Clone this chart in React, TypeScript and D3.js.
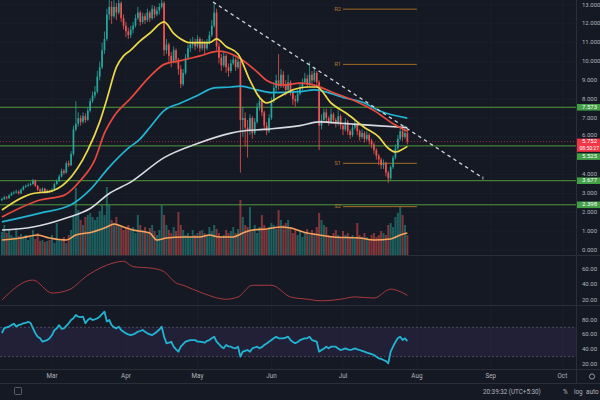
import React, { useEffect } from 'react';
import * as d3 from 'd3';

// ---------- DATA ----------
const firstOpen = 2.65;
// daily closes from 2021-02-08 to 2021-07-28
const closes = [
  2.70, 2.80, 2.75, 2.90, 3.00, 3.05, 3.10, 3.00, 3.20, 3.35,
  3.40, 3.45, 3.50, 3.70, 3.40, 3.20, 3.10, 3.25, 3.05, 3.15,
  3.10, 3.20, 3.50, 3.65, 3.90, 4.20, 4.10, 4.60, 4.50, 5.10,
  6.40, 6.70, 7.00, 6.80, 7.10, 6.90, 7.40, 7.90, 8.20, 8.40,
  9.20, 9.70, 10.60, 11.20, 12.50, 12.90, 12.40, 12.90, 12.60, 13.10,
  12.30, 11.90, 11.60, 11.40, 11.70, 11.90, 12.30, 12.60, 12.10, 12.40,
  12.20, 12.60, 12.30, 12.80, 12.50, 12.70, 12.90, 13.10, 10.60, 10.90,
  10.30, 10.00, 10.60, 10.10, 9.60, 8.80, 9.40, 10.20, 10.70, 10.90,
  11.00, 10.80, 11.20, 10.70, 11.00, 10.70, 11.00, 11.40, 11.90, 12.60,
  10.80, 10.20, 9.80, 10.30, 9.70, 9.50, 9.90, 10.10, 9.70, 10.00,
  6.90, 7.00, 6.50, 6.30, 7.00, 6.20, 6.80, 7.60, 7.90, 7.30,
  6.60, 6.30, 7.00, 7.90, 8.60, 9.00, 8.70, 9.30, 8.80, 8.50,
  8.90, 8.40, 8.00, 7.90, 8.30, 8.60, 8.90, 9.10, 8.80, 9.30,
  9.00, 9.40, 8.90, 6.60, 6.90, 7.30, 7.00, 6.80, 7.20, 6.90,
  6.70, 7.10, 6.60, 6.40, 6.80, 6.30, 6.10, 6.50, 6.70, 6.30,
  6.00, 6.20, 5.90, 6.10, 5.80, 5.60, 5.30, 5.00, 4.80, 4.50,
  4.60, 4.10, 3.80, 4.40, 4.90, 5.40, 5.90, 6.30, 6.00, 6.20, 5.752,
];
const highs = [
  2.78, 2.88, 2.86, 2.96, 3.08, 3.14, 3.20, 3.16, 3.26, 3.42,
  3.48, 3.55, 3.58, 3.78, 3.74, 3.45, 3.28, 3.32, 3.30, 3.22,
  3.20, 3.28, 3.58, 3.75, 4.00, 4.32, 4.30, 4.70, 4.75, 5.25,
  6.60, 7.90, 7.30, 7.15, 7.30, 7.25, 7.55, 8.05, 8.40, 8.70,
  9.50, 10.00, 11.00, 11.60, 12.80, 13.30, 13.20, 13.25, 13.10, 13.35,
  13.20, 12.50, 12.10, 11.80, 11.90, 12.10, 12.50, 12.90, 12.70, 12.60,
  12.55, 12.80, 12.70, 13.00, 12.95, 12.90, 13.10, 13.40, 13.20, 11.20,
  11.00, 10.50, 10.80, 10.70, 10.20, 9.80, 9.60, 10.40, 10.90, 11.20,
  11.30, 11.20, 11.40, 11.30, 11.20, 11.10, 11.20, 11.60, 12.20, 13.10,
  12.80, 11.00, 10.40, 10.50, 10.40, 9.90, 10.10, 10.30, 10.20, 10.20,
  10.10, 7.60, 7.30, 6.90, 7.20, 7.10, 7.00, 7.80, 8.20, 8.00,
  7.40, 6.80, 7.20, 8.10, 8.90, 9.30, 10.40, 9.60, 9.50, 9.00,
  9.30, 9.00, 8.50, 8.20, 8.50, 8.80, 9.10, 9.40, 9.30, 10.00,
  9.50, 9.70, 9.50, 9.00, 7.20, 7.50, 7.50, 7.10, 7.50, 7.30,
  7.00, 7.40, 7.20, 6.70, 7.00, 6.90, 6.40, 6.70, 6.90, 6.80,
  6.40, 6.40, 6.30, 6.30, 6.20, 5.90, 5.70, 5.40, 5.10, 4.90,
  4.80, 4.70, 4.20, 4.50, 5.00, 5.60, 6.10, 6.50, 6.50, 6.60, 6.40,
];
const lows = [
  2.58, 2.66, 2.68, 2.72, 2.86, 2.95, 3.00, 2.94, 2.97, 3.15,
  3.30, 3.36, 3.40, 3.46, 3.35, 3.12, 3.02, 3.06, 2.98, 3.00,
  3.02, 3.05, 3.16, 3.44, 3.60, 3.85, 4.00, 4.05, 4.40, 4.45,
  5.00, 6.30, 6.55, 6.60, 6.70, 6.75, 6.85, 7.30, 7.80, 8.05,
  8.30, 9.00, 9.60, 10.40, 11.10, 12.20, 12.00, 12.30, 12.20, 12.50,
  12.10, 11.70, 11.30, 11.20, 11.25, 11.50, 11.80, 12.20, 11.90, 12.00,
  12.00, 12.10, 12.10, 12.20, 12.30, 12.40, 12.50, 12.80, 10.30, 10.40,
  10.00, 9.70, 9.90, 9.90, 9.30, 8.60, 8.70, 9.30, 10.10, 10.50,
  10.70, 10.60, 10.70, 10.50, 10.60, 10.40, 10.60, 10.90, 11.30, 11.80,
  10.60, 9.90, 9.50, 9.70, 9.40, 9.20, 9.40, 9.80, 9.50, 9.60,
  4.10, 6.00, 5.50, 4.90, 6.10, 5.90, 6.10, 6.70, 7.40, 7.10,
  6.40, 6.10, 6.20, 6.90, 7.80, 8.40, 8.50, 8.60, 8.60, 8.20,
  8.40, 8.20, 7.70, 7.60, 7.80, 8.20, 8.50, 8.80, 8.60, 8.70,
  8.80, 8.90, 8.70, 5.30, 6.40, 6.80, 6.80, 6.60, 6.70, 6.70,
  6.50, 6.60, 6.40, 6.10, 6.30, 6.10, 5.90, 6.00, 6.40, 6.10,
  5.80, 5.90, 5.70, 5.80, 5.60, 5.40, 5.10, 4.80, 4.50, 4.30,
  4.30, 3.90, 3.55, 3.70, 4.30, 4.80, 5.30, 5.80, 5.80, 5.90, 5.60,
];
const volumes = [
  23, 30, 22, 25, 20, 18, 27, 19, 21, 17,
  20, 15, 18, 25, 16, 22, 14, 15, 13, 14,
  15, 20, 12, 32, 16, 14, 18, 12, 20, 25,
  40, 67, 45, 35, 30, 38, 40, 42, 38, 35,
  38, 44, 50, 40, 68, 50, 35, 32, 38, 30,
  28, 25, 27, 30, 25, 28, 22, 40, 30, 25,
  28, 22, 27, 30, 24, 20, 25, 50, 40, 30,
  25, 22, 28, 24, 43, 30, 25, 20, 22, 18,
  25, 20, 22, 24, 25, 22, 20, 28, 24, 30,
  26, 22, 18, 20, 25, 22, 24, 28, 22, 26,
  55, 38, 30, 28, 48, 25, 30, 22, 28, 40,
  30, 25, 28, 32, 30, 26, 45, 35, 30, 32,
  35, 28, 22, 25, 20, 24, 18, 22, 26, 20,
  25, 22, 28, 42, 35, 30, 28, 20, 18, 22,
  25, 20, 18, 24, 20, 22, 18, 20, 16, 32,
  20, 18, 22, 18, 16, 20, 22, 18, 20, 24,
  22, 20, 30, 32, 28, 38, 42, 48, 40, 30, 20,
];
const rsi = [
  62, 69, 70, 71, 73, 75, 71, 73, 74, 75.5,
  76, 77.7, 76, 69, 62, 57.3, 55, 50.4, 51.5, 52.6,
  55, 59.5, 66, 68.6, 73, 68, 68.6, 72, 75.5, 80,
  82.3, 86.8, 84.5, 84, 84.5, 75.5, 80, 82.3, 80, 81,
  82.3, 84.5, 88, 91.4, 78, 80, 73, 70, 68.6, 70.9,
  66.4, 64, 61.8, 60.5, 59.5, 60.5, 61.8, 64, 65, 66.4,
  64, 61.8, 60.5, 59.5, 61.5, 64, 67, 70.9, 57.3, 48.2,
  49, 50.4, 43.6, 40, 36.8, 43.6, 47, 50.4, 51.5, 52.6,
  52.6, 52.6, 50.4, 50.4, 50, 49, 51.5, 52.6, 55, 57.3,
  50.4, 47, 43.6, 41.4, 45.9, 44, 43.6, 42, 41.4, 43.6,
  30, 36.8, 38, 39.1, 36.8, 41.4, 42.5, 43.6, 41.4, 43,
  45.9, 48, 50.4, 52.6, 55, 57.3, 55, 55, 55, 56,
  57.3, 52.6, 50, 48.2, 50, 52.6, 54, 55, 55, 57.3,
  52.6, 51.5, 50.4, 36.8, 39.1, 41, 43.6, 41.4, 43.6, 43.6,
  43.6, 41, 39.1, 40, 41.4, 40, 39.1, 40, 41.4, 40,
  39.1, 38, 36.8, 35.5, 34.6, 33.5, 32.3, 30, 27.8, 27,
  25.5, 24, 21, 36.8, 43.6, 50, 55, 57.3, 52.6, 55, 51.3,
];

// moving averages (day index, value)
const maFastDays = [0, 13, 20, 27, 36, 41, 44, 48, 51, 54, 58, 62, 68, 72, 75, 79, 87, 90, 94, 99, 104, 108, 111, 116, 122, 128, 132, 138, 145, 152, 158, 162, 165, 168, 170];
const maFastVals = [2.12, 3.0, 3.1, 3.6, 5.3, 6.8, 8.0, 9.7, 10.3, 10.6, 11.1, 11.5, 12.1, 11.5, 11.2, 11.0, 11.0, 11.2, 10.8, 10.4, 9.0, 8.1, 7.8, 8.1, 8.5, 8.65, 8.65, 7.8, 7.2, 6.5, 6.0, 5.4, 5.2, 5.35, 5.5];
const maMidDays = [0, 16, 26, 33, 39, 43, 47, 54, 62, 68, 75, 83, 91, 100, 107, 111, 118, 125, 131, 138, 149, 156, 164, 170];
const maMidVals = [1.75, 2.65, 2.9, 3.7, 4.8, 6.2, 7.1, 8.05, 9.2, 9.85, 10.05, 10.3, 10.55, 10.15, 9.45, 9.0, 8.75, 8.85, 8.75, 8.4, 7.85, 7.4, 6.7, 6.3];
const maSlowDays = [0, 16, 29, 37, 45, 53, 58, 62, 68, 75, 82, 89, 96, 100, 107, 113, 125, 131, 143, 152, 158, 170];
const maSlowVals = [1.49, 1.96, 2.4, 3.2, 4.4, 5.4, 5.9, 6.5, 7.4, 7.8, 8.2, 8.6, 8.65, 8.7, 8.5, 8.35, 8.4, 8.5, 8.1, 7.8, 7.4, 7.0];
const maLongDays = [0, 13, 27, 37, 45, 54, 68, 82, 96, 100, 110, 125, 133, 145, 157, 170];
const maLongVals = [1.06, 1.22, 1.7, 2.2, 3.0, 3.6, 4.9, 5.65, 6.2, 6.3, 6.4, 6.6, 6.8, 6.7, 6.6, 6.5];
const volMaDays = [0, 8, 15, 20, 27, 31, 38, 44, 47, 51, 55, 62, 65, 69, 76, 83, 87, 91, 97, 101, 105, 111, 117, 121, 128, 133, 139, 150, 156, 163, 167, 170];
const volMaVals = [15, 17, 20, 17, 15, 20, 23, 28, 31, 28, 25, 22, 15, 17, 18, 18, 20, 18, 18, 22, 25, 26, 28, 27, 22, 20, 18, 17, 15, 16, 20, 22];
const adxDays = [0, 13, 21, 28, 36, 47, 51, 55, 63, 68, 73, 76, 84, 94, 99, 105, 113, 121, 128, 134, 142, 148, 156, 163, 166, 170];
const adxVals = [20, 45.8, 29, 33, 52, 68, 70, 63, 61, 56.5, 42, 39, 29, 21, 24, 39, 39, 24, 21, 19, 21, 24, 22.5, 34, 32, 26];

// tick values; 5.000 is hidden behind the last-price label as in the reference
const priceGridTicks = [0, 1, 2, 3, 4, 5, 6, 7, 8, 9, 10, 11, 12, 13];
const priceLabelTicks = [0, 1, 2, 3, 4, 6, 7, 8, 9, 10, 11, 12, 13];
const adxTicks = [60, 40, 20];
const rsiTicks = [80, 60, 40, 20];
const monthLabels = ['Mar', 'Apr', 'May', 'Jun', 'Jul', 'Aug', 'Sep', 'Oct'];
const levelPrices = [7.573, 5.525, 3.677, 2.398];
const pivotNames = ['R2', 'R1', 'S1', 'S2'];
const pivotPrices = [12.78, 9.85, 4.6, 2.3];
const lastPrice = 5.752;
const countdown = '08:50:27';
const trendPrices = [13.16, 3.82];

// ---------- STYLE ----------
const BG = '#151924';
const UP = '#26a69a';
const DOWN = '#ef5350';
const TXT = '#b2b5be';
const FONT = "Roboto, 'Liberation Sans', sans-serif";

export default function App() {
  useEffect(() => {
    document.body.style.margin = '0';
    document.body.style.background = BG;
  }, []);

  const axisX = 576;
  const dayDate = (i: number) => new Date(Date.UTC(2021, 1, 8 + i));
  const x = d3.scaleUtc()
    .domain([new Date(Date.UTC(2021, 2, 1)), new Date(Date.UTC(2021, 7, 1))])
    .range([52, 416.9]);
  const y = d3.scaleLinear().domain([0, 13]).range([250, 5]);
  const yVol = d3.scaleLinear().domain([0, 70]).range([255, 185]);
  const yAdx = d3.scaleLinear().domain([20, 60]).range([300, 269]);
  const yRsi = d3.scaleLinear().domain([20, 80]).range([364, 320]);

  const opens = closes.map((c, i) => (i === 0 ? firstOpen : closes[i - 1]));

  const maPath = (days: number[], vals: number[], ys: (v: number) => number) =>
    d3.line<number>()
      .x((_, k) => x(dayDate(days[k])))
      .y((v) => ys(v))
      .curve(d3.curveMonotoneX)(vals) || '';

  const rsiPath = d3.line<number>()
    .x((_, i) => x(dayDate(i)))
    .y((v) => yRsi(v))(rsi) || '';

  const months = monthLabels.map((_, k) => new Date(Date.UTC(2021, 2 + k, 1)));
  const trendStart = new Date(Date.UTC(2021, 4, 7, 12));
  const trendEnd = new Date(Date.UTC(2021, 7, 28, 16));
  const pivotStart = new Date(Date.UTC(2021, 6, 1));
  const pivotEnd = new Date(Date.UTC(2021, 7, 1));

  const levelLabelY = (p: number) => (p === 5.525 ? 156.6 : y(p));
  const lp = y(lastPrice);

  return (
    <svg width={600} height={400} style={{ position: 'absolute', left: 0, top: 0, display: 'block' }} fontFamily={FONT}>
      <defs>
        <clipPath id="pricePane"><rect x={0} y={0} width={axisX} height={255} /></clipPath>
        <clipPath id="adxPane"><rect x={0} y={256} width={axisX} height={48} /></clipPath>
        <clipPath id="rsiPane"><rect x={0} y={306} width={axisX} height={63} /></clipPath>
      </defs>
      <rect x={0} y={0} width={600} height={400} fill={BG} />

      {/* grid */}
      <g stroke="#1b1f2a" strokeWidth={1}>
        {priceGridTicks.map((t) => (
          <line key={'g' + t} x1={0} x2={axisX} y1={y(t)} y2={y(t)} />
        ))}
        {months.map((m, k) => (
          <line key={'v' + k} x1={x(m)} x2={x(m)} y1={0} y2={369} />
        ))}
      </g>

      {/* price pane */}
      <g clipPath="url(#pricePane)">
        {volumes.map((v, i) => (
          <rect key={'vol' + i} x={x(dayDate(i)) - 1} width={2} y={yVol(v)} height={yVol(0) - yVol(v)}
            fill={closes[i] >= opens[i] ? UP : DOWN} opacity={0.5} />
        ))}
        <path d={maPath(volMaDays, volMaVals, yVol)} fill="none" stroke="#f7a25a" strokeWidth={1.6} />

        {levelPrices.map((p) => (
          <line key={'lv' + p} x1={0} x2={axisX} y1={y(p)} y2={y(p)} stroke="#4f9a3c" strokeWidth={1} />
        ))}
        <line x1={0} x2={axisX} y1={lp} y2={lp} stroke="#c2303a" strokeWidth={1} strokeDasharray="1 2" opacity={0.8} />

        {pivotPrices.map((p, k) => (
          <g key={'pv' + k}>
            <line x1={x(pivotStart)} x2={x(pivotEnd)} y1={y(p)} y2={y(p)} stroke="#a66a24" strokeWidth={1} />
            <text x={x(pivotStart) - 2} y={y(p)} fontSize={5.5} fill="#b8792c" textAnchor="end" dominantBaseline="middle">{pivotNames[k]}</text>
          </g>
        ))}

        {closes.map((c, i) => {
          const o = opens[i];
          const cx = x(dayDate(i));
          const col = c >= o ? UP : DOWN;
          const top = y(Math.max(o, c));
          const h = Math.max(0.8, Math.abs(y(o) - y(c)));
          return (
            <g key={'c' + i}>
              <line x1={cx} x2={cx} y1={y(highs[i])} y2={y(lows[i])} stroke={col} strokeWidth={0.8} />
              <rect x={cx - 0.85} width={1.7} y={top} height={h} fill={col} />
            </g>
          );
        })}

        <path d={maPath(maLongDays, maLongVals, y)} fill="none" stroke="#d8dae0" strokeWidth={1.6} />
        <path d={maPath(maSlowDays, maSlowVals, y)} fill="none" stroke="#22b5d3" strokeWidth={1.7} />
        <path d={maPath(maMidDays, maMidVals, y)} fill="none" stroke="#e8493d" strokeWidth={1.7} />
        <path d={maPath(maFastDays, maFastVals, y)} fill="none" stroke="#ecd94a" strokeWidth={1.7} />

        <line x1={x(trendStart)} y1={y(trendPrices[0])} x2={x(trendEnd)} y2={y(trendPrices[1])}
          stroke="#d1d4dc" strokeWidth={1.3} strokeDasharray="3.5 3.5" />
        <line x1={x(trendEnd)} x2={x(trendEnd)} y1={y(trendPrices[1]) - 1.5} y2={y(trendPrices[1]) + 1.5} stroke="#d1d4dc" strokeWidth={0.8} />
      </g>

      {/* ADX pane */}
      <g clipPath="url(#adxPane)">
        <path d={maPath(adxDays, adxVals, yAdx)} fill="none" stroke="#a83a3c" strokeWidth={1} />
      </g>

      {/* RSI pane */}
      <g clipPath="url(#rsiPane)">
        <rect x={0} width={axisX} y={yRsi(70)} height={yRsi(30) - yRsi(70)} fill="#7e57c2" opacity={0.12} />
        <line x1={0} x2={axisX} y1={yRsi(70)} y2={yRsi(70)} stroke="#555466" strokeDasharray="2 2" strokeWidth={0.8} />
        <line x1={0} x2={axisX} y1={yRsi(30)} y2={yRsi(30)} stroke="#555466" strokeDasharray="2 2" strokeWidth={0.8} />
        <path d={rsiPath} fill="none" stroke="#22b5d3" strokeWidth={1.8} strokeLinejoin="round" />
      </g>

      {/* separators */}
      <g stroke="#2a2e39" strokeWidth={1}>
        <line x1={0} x2={600} y1={255.5} y2={255.5} />
        <line x1={0} x2={600} y1={305.5} y2={305.5} />
        <line x1={0} x2={600} y1={369.5} y2={369.5} />
        <line x1={0} x2={600} y1={383.5} y2={383.5} />
        <line x1={axisX + 0.5} x2={axisX + 0.5} y1={0} y2={383} />
      </g>

      {/* right axes */}
      <g fontSize={6} fill={TXT} dominantBaseline="middle">
        {priceLabelTicks.map((t) => (
          <text key={'pt' + t} x={582} y={t === 6 ? y(t) - 1.2 : y(t)}>{t.toFixed(3)}</text>
        ))}
        {adxTicks.map((t) => (
          <text key={'at' + t} x={582} y={yAdx(t)}>{t.toFixed(2)}</text>
        ))}
        {rsiTicks.map((t) => (
          <text key={'rt' + t} x={582} y={yRsi(t)}>{t.toFixed(2)}</text>
        ))}
      </g>

      {/* level labels */}
      {levelPrices.map((p) => (
        <g key={'ll' + p}>
          <rect x={axisX + 1} y={levelLabelY(p) - 3.3} width={24} height={6.6} fill="#43a047" />
          <text x={582} y={levelLabelY(p)} fontSize={6} fill="#ffffff" dominantBaseline="middle">{p.toFixed(3)}</text>
        </g>
      ))}
      <rect x={axisX + 1} y={lp - 3} width={24} height={13.2} fill="#f23645" />
      <text x={582} y={lp + 0.3} fontSize={6} fill="#ffffff" dominantBaseline="middle">{lastPrice.toFixed(3)}</text>
      <text x={579.5} y={lp + 6.6} fontSize={5.6} fill="#ffffff" dominantBaseline="middle"
        textLength={19.5} lengthAdjust="spacingAndGlyphs">{countdown}</text>

      {/* time axis */}
      <g fontSize={6.3} fill={TXT} textAnchor="middle" dominantBaseline="middle">
        {months.map((m, k) => (
          <text key={'m' + k} x={x(m)} y={376.5}>{monthLabels[k]}</text>
        ))}
      </g>
      <circle cx={592} cy={376.5} r={2.6} fill="none" stroke={TXT} strokeWidth={0.8} />

      {/* bottom toolbar */}
      <rect x={14.5} y={387.5} width={7} height={7} rx={1} fill="none" stroke="#6a6e79" strokeWidth={0.8} />
      <g fontSize={6.3} fill={TXT} dominantBaseline="middle">
        <text x={483} y={392}>20:39:32 (UTC+5:30)</text>
        <text x={563} y={392}>%</text>
        <text x={574} y={392}>log</text>
        <text x={586} y={392}>auto</text>
      </g>
    </svg>
  );
}
